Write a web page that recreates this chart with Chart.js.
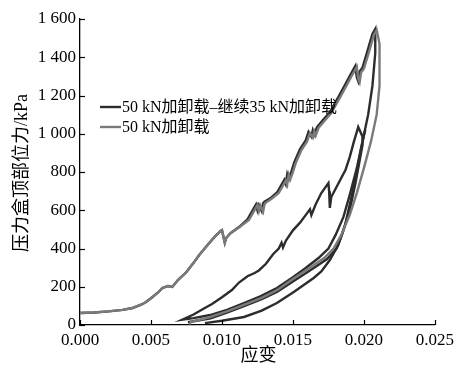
<!DOCTYPE html>
<html lang="zh">
<head>
<meta charset="UTF-8">
<script src="https://cdn.jsdelivr.net/npm/chart.js"></script>
<title>压力盒顶部位力</title>
<style>
  body { margin: 0; background: #fff; }
</style>
</head>
<body>
<canvas id="graficoCarga" width="459" height="365"></canvas>

<script>
  // ---- dados (deformação x pressão em kPa) ----

  // 50 kN: carregamento inicial
  const cinzaCargaX = [0.0000, 0.0010, 0.0020, 0.0030, 0.0037, 0.0040, 0.0043, 0.0046, 0.0050, 0.0055, 0.0058, 0.0062, 0.0065, 0.0069, 0.0075, 0.0080, 0.0084, 0.0090, 0.0095, 0.0099, 0.0100, 0.0102, 0.0103, 0.0106, 0.0112, 0.0119, 0.0125, 0.0126, 0.0127, 0.0129, 0.0130, 0.0131, 0.0135, 0.0140, 0.0145, 0.0146, 0.0147, 0.0148, 0.0150, 0.0152, 0.0156, 0.0160, 0.0162, 0.0164, 0.0165, 0.0166, 0.0168, 0.0172, 0.0177, 0.0183, 0.0188, 0.0191, 0.0195, 0.0196, 0.0197, 0.0198, 0.0200, 0.0204, 0.0207, 0.0209];
  const cinzaCargaY = [63, 65, 71, 79, 89, 97, 106, 118, 140, 170, 193, 204, 199, 235, 277, 325, 366, 420, 462, 492, 496, 430, 455, 480, 510, 549, 627, 595, 625, 592, 632, 640, 660, 690, 755, 735, 784, 760, 800, 847, 915, 960, 1004, 980, 1012, 990, 1030, 1065, 1108, 1187, 1255, 1297, 1349, 1290, 1270, 1320, 1340, 1438, 1516, 1542];
  // 50 kN: descarregamento
  const cinzaDescargaX = [0.0211, 0.0211, 0.0211, 0.0209, 0.0205, 0.0200, 0.0195, 0.0190, 0.0184, 0.01786, 0.0172, 0.0165, 0.0159, 0.0150, 0.0139, 0.0128, 0.01155, 0.0104, 0.0092, 0.0083, 0.0078, 0.0077];
  const cinzaDescargaY = [1470, 1380, 1250, 1100, 960, 820, 690, 575, 470, 400, 350, 315, 285, 240, 183, 142, 105, 72, 42, 25, 15, 3];

  // 50 kN + 35 kN: carregamento inicial
  const escuroCargaX = [0.0000, 0.0010, 0.0020, 0.0030, 0.0037, 0.0040, 0.0043, 0.0046, 0.0050, 0.0055, 0.0058, 0.0062, 0.0065, 0.0069, 0.0075, 0.0080, 0.0084, 0.0090, 0.0095, 0.0099, 0.0100, 0.0102, 0.0103, 0.0106, 0.0112, 0.0118, 0.0124, 0.0125, 0.0126, 0.0128, 0.0129, 0.0130, 0.0134, 0.0139, 0.0144, 0.0145, 0.0146, 0.0147, 0.0149, 0.0151, 0.0155, 0.0159, 0.0161, 0.0163, 0.0164, 0.0165, 0.0167, 0.0171, 0.0176, 0.0182, 0.0187, 0.0190, 0.0194, 0.0195, 0.0196, 0.0197, 0.0199, 0.0203, 0.0206, 0.0208];
  const escuroCargaY = [63, 65, 71, 79, 89, 97, 106, 118, 140, 170, 193, 204, 199, 235, 277, 325, 366, 420, 462, 492, 496, 430, 455, 480, 512, 552, 630, 600, 628, 596, 636, 645, 662, 695, 760, 738, 788, 765, 805, 852, 920, 965, 1010, 985, 1018, 995, 1035, 1070, 1112, 1192, 1260, 1302, 1355, 1295, 1275, 1325, 1345, 1445, 1522, 1548];
  // primeiro descarregamento
  const escuroDescarga1X = [0.0208, 0.0206, 0.0203, 0.0199, 0.0195, 0.0190, 0.01856, 0.0180, 0.0175, 0.0168, 0.0159, 0.0150, 0.01387, 0.0127, 0.01155, 0.0104, 0.00917, 0.0080, 0.0072];
  const escuroDescarga1Y = [1422, 1250, 1100, 960, 820, 680, 565, 470, 400, 350, 298, 250, 193, 150, 115, 80, 52, 36, 28];
  // recarregamento (35 kN)
  const escuroRecargaX = [0.0080, 0.0087, 0.0093, 0.0100, 0.0107, 0.0112, 0.0118, 0.0123, 0.0126, 0.0131, 0.0136, 0.0140, 0.0142, 0.0143, 0.0145, 0.0150, 0.0155, 0.0160, 0.0162, 0.0163, 0.0166, 0.0170, 0.0175, 0.01755, 0.0176, 0.0177, 0.0182, 0.0187, 0.0190, 0.0193, 0.0195, 0.0196];
  const escuroRecargaY = [55, 85, 110, 145, 183, 222, 255, 272, 285, 320, 370, 400, 430, 405, 440, 495, 535, 585, 605, 575, 630, 690, 742, 700, 612, 669, 740, 810, 878, 960, 1010, 1035];
  // segundo descarregamento
  const escuroDescarga2X = [0.0199, 0.0199, 0.0197, 0.0194, 0.0190, 0.0185, 0.01807, 0.0174, 0.0166, 0.0159, 0.0150, 0.0139, 0.0128, 0.01155, 0.0104, 0.0092, 0.0082, 0.0076];
  const escuroDescarga2Y = [985, 940, 860, 740, 600, 480, 400, 345, 305, 270, 228, 174, 135, 98, 66, 35, 22, 15];
  // último ciclo
  const escuroCicloX = [0.0088, 0.0100, 0.01155, 0.0128, 0.01387, 0.01506, 0.01646, 0.0170, 0.0176, 0.0182, 0.0187, 0.0191, 0.0195, 0.0198, 0.0200, 0.0201];
  const escuroCicloY = [10, 22, 42, 75, 115, 173, 246, 280, 340, 420, 530, 660, 800, 920, 990, 1020];

  // ticks dos eixos
  const ticksX = [0, 0.005, 0.010, 0.015, 0.020, 0.025];
  const ticksY = [0, 200, 400, 600, 800, 1000, 1200, 1400, 1600];

  const tituloX = '应变';
  const tituloY = '压力盒顶部位力/kPa';

  const corCinza = '#7a7a7a';
  const corEscuro = '#2c2c2c';
  const fonteSerif = "'Liberation Serif', 'Noto Sans CJK SC', serif";

  function juntarPontos(xs, ys) {
    let pontos = [];
    for (let i = 0; i < xs.length; i++) {
      pontos.push({ x: xs[i], y: ys[i] });
    }
    return pontos;
  }

  let dadosCinza = juntarPontos(cinzaCargaX, cinzaCargaY)
    .concat(juntarPontos(cinzaDescargaX, cinzaDescargaY));

  let dadosEscuro = juntarPontos(escuroCargaX, escuroCargaY)
    .concat(juntarPontos(escuroDescarga1X, escuroDescarga1Y))
    .concat(juntarPontos(escuroRecargaX, escuroRecargaY))
    .concat(juntarPontos(escuroDescarga2X, escuroDescarga2Y));

  let dadosEscuroCiclo = juntarPontos(escuroCicloX, escuroCicloY);

  // rótulo do eixo y com espaço de milhar: 1 600
  function formatarMilhar(v) {
    if (v >= 1000) {
      return Math.floor(v / 1000) + ' ' + String(v % 1000).padStart(3, '0');
    }
    return String(v);
  }

  // marcas dos ticks voltadas para dentro + títulos dos eixos
  const eixosInternos = {
    id: 'eixosInternos',
    afterDraw(chart) {
      const ctx = chart.ctx;
      const area = chart.chartArea;
      ctx.save();
      ctx.strokeStyle = '#000';
      ctx.lineWidth = 1.2;
      ticksX.forEach(function (v) {
        const px = Math.round(chart.scales.x.getPixelForValue(v)) + 0.5;
        ctx.beginPath();
        ctx.moveTo(px, area.bottom);
        ctx.lineTo(px, area.bottom - 5);
        ctx.stroke();
      });
      ticksY.forEach(function (v) {
        const py = Math.round(chart.scales.y.getPixelForValue(v)) + 0.5;
        ctx.beginPath();
        ctx.moveTo(area.left, py);
        ctx.lineTo(area.left + 5, py);
        ctx.stroke();
      });

      ctx.fillStyle = '#000';
      ctx.textAlign = 'center';
      ctx.textBaseline = 'middle';
      ctx.font = '18px ' + fonteSerif;
      ctx.fillText(tituloX, (area.left + area.right) / 2 + 1, area.bottom + 31);

      ctx.translate(22, (area.top + area.bottom) / 2 + 1);
      ctx.rotate(-Math.PI / 2);
      ctx.fillText(tituloY, 0, 0);
      ctx.restore();
    }
  };

  // legenda desenhada dentro da área do gráfico
  const legendaInterna = {
    id: 'legendaInterna',
    afterDraw(chart) {
      const ctx = chart.ctx;
      const area = chart.chartArea;
      let itens = chart.data.datasets.filter(d => d.ordemLegenda !== undefined);
      itens.sort((a, b) => a.ordemLegenda - b.ordemLegenda);
      ctx.save();
      ctx.font = '16px ' + fonteSerif;
      ctx.textBaseline = 'middle';
      ctx.fillStyle = '#000';
      itens.forEach(function (d, i) {
        const y = area.top + 88 + i * 20;
        ctx.strokeStyle = d.borderColor;
        ctx.lineWidth = 2.4;
        ctx.beginPath();
        ctx.moveTo(area.left + 20, y);
        ctx.lineTo(area.left + 41, y);
        ctx.stroke();
        ctx.fillText(d.label, area.left + 42, y + 1);
      });
      ctx.restore();
    }
  };

  const config = {
    type: 'line',
    data: {
      datasets: [
        {
          label: '50 kN加卸载',
          data: dadosCinza,
          borderColor: corCinza,
          ordemLegenda: 1
        },
        {
          label: '50 kN加卸载–继续35 kN加卸载',
          data: dadosEscuro,
          borderColor: corEscuro,
          ordemLegenda: 0
        },
        {
          label: '',
          data: dadosEscuroCiclo,
          borderColor: corEscuro
        }
      ]
    },
    options: {
      responsive: false,
      animation: false,
      layout: { padding: { top: 19, right: 22, left: 0, bottom: 0 } },
      elements: {
        point: { radius: 0 },
        line: { borderWidth: 2.4, tension: 0, fill: false }
      },
      plugins: {
        legend: { display: false },
        tooltip: { enabled: false }
      },
      scales: {
        x: {
          type: 'linear',
          min: 0,
          max: 0.025,
          afterFit: function (s) { s.height = 40; },
          afterBuildTicks: function (s) { s.ticks = ticksX.map(v => ({ value: v })); },
          grid: { display: true, drawOnChartArea: false, drawTicks: false },
          border: { display: true, color: '#000', width: 1.3 },
          ticks: {
            padding: 5,
            color: '#000',
            font: { family: fonteSerif, size: 17 },
            callback: v => v.toFixed(3)
          }
        },
        y: {
          min: 0,
          max: 1600,
          afterFit: function (s) { s.width = 80; },
          afterBuildTicks: function (s) { s.ticks = ticksY.map(v => ({ value: v })); },
          grid: { display: true, drawOnChartArea: false, drawTicks: false },
          border: { display: true, color: '#000', width: 1.3 },
          ticks: {
            padding: 4,
            color: '#000',
            font: { family: fonteSerif, size: 17 },
            callback: v => formatarMilhar(v)
          }
        }
      }
    },
    plugins: [eixosInternos, legendaInterna]
  };

  let graficoCarga = new Chart(document.getElementById('graficoCarga'), config);
</script>
</body>
</html>
